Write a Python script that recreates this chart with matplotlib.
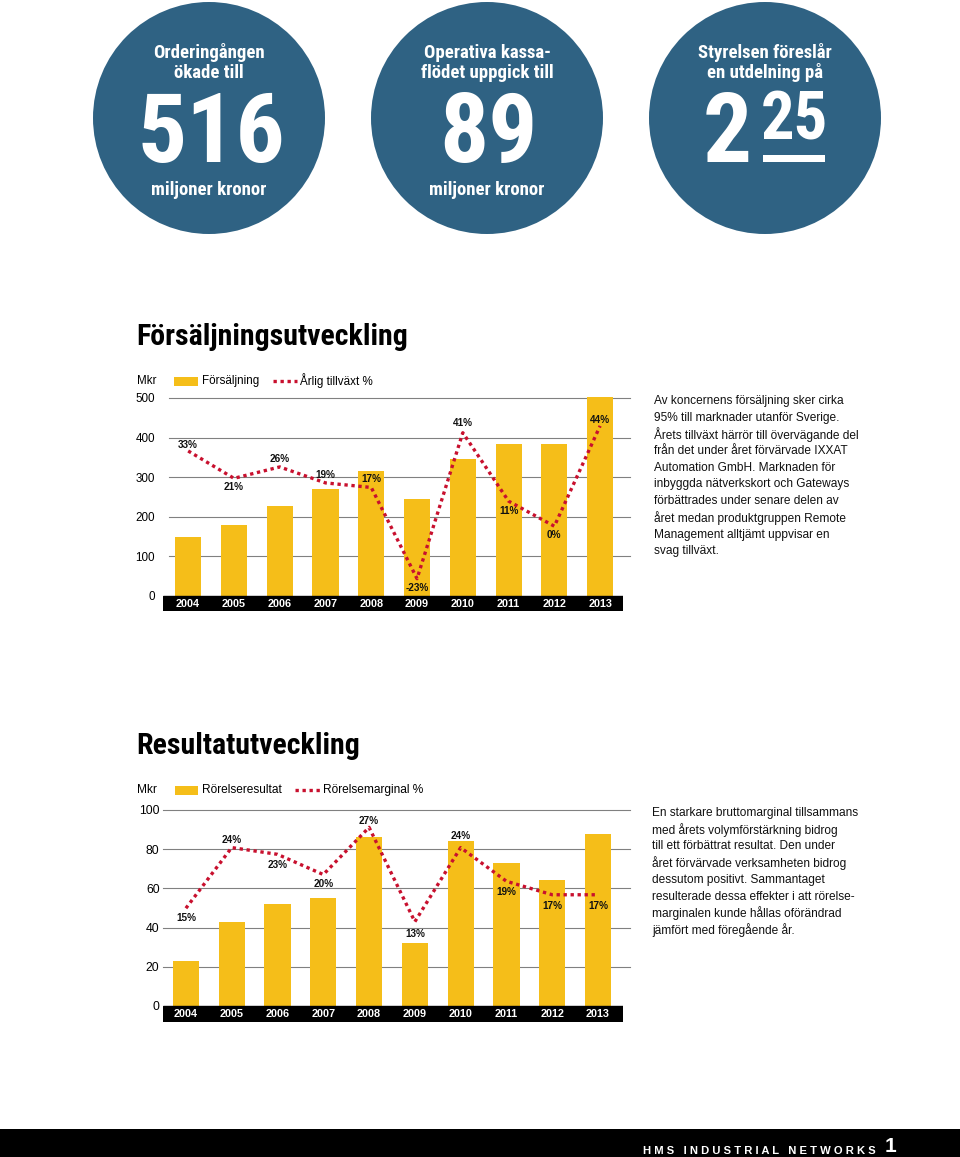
import matplotlib
matplotlib.use("Agg")
import matplotlib.pyplot as plt
from matplotlib import font_manager
from matplotlib.patches import Circle, Rectangle

plt.rcParams['font.family'] = ['Liberation Sans', 'DejaVu Sans']


def pick_narrow():
    # first condensed bold face that is really installed, else plain Liberation Sans
    for fam in ['Liberation Sans Narrow', 'Roboto Condensed', 'Open Sans Condensed',
                'Noto Sans Condensed', 'DejaVu Sans Condensed']:
        try:
            font_manager.findfont(font_manager.FontProperties(family=fam, weight='bold'),
                                  fallback_to_default=False)
            return [fam, 'DejaVu Sans']
        except ValueError:
            pass
    return ['Liberation Sans', 'DejaVu Sans']


NARROW = pick_narrow()

YELLOW = '#f5be19'
RED = '#c8102e'
BLUE = '#2f6283'
GRID = '#808080'

# --- data ---
years = ['2004', '2005', '2006', '2007', '2008', '2009', '2010', '2011', '2012', '2013']

sales = [148, 180, 227, 269, 316, 244, 345, 385, 383, 503]
sales_growth = [33, 21, 26, 19, 17, -23, 41, 11, 0, 44]

op_result = [23, 43, 52, 55, 86, 32, 84, 73, 64.5, 88]
op_margin = [15, 24, 23, 20, 27, 13, 24, 19, 17, 17]

text_sales = [
    "Av koncernens försäljning sker cirka",
    "95% till marknader utanför Sverige.",
    "Årets tillväxt härrör till övervägande del",
    "från det under året förvärvade IXXAT",
    "Automation GmbH. Marknaden för",
    "inbyggda nätverkskort och Gateways",
    "förbättrades under senare delen av",
    "året medan produktgruppen Remote",
    "Management alltjämt uppvisar en",
    "svag tillväxt.",
]
text_result = [
    "En starkare bruttomarginal tillsammans",
    "med årets volymförstärkning bidrog",
    "till ett förbättrat resultat. Den under",
    "året förvärvade verksamheten bidrog",
    "dessutom positivt. Sammantaget",
    "resulterade dessa effekter i att rörelse-",
    "marginalen kunde hållas oförändrad",
    "jämfört med föregående år.",
]

# label offsets in pixels (image y down), not data
off_sales = [-6, 9, -8, -8, -8, 9, -10, 10, 9, -6]
off_result = [10, -8, 11, 9, -6, 12, -12, 11, 11, 11]

W, H = 960, 1157
fig = plt.figure(figsize=(W / 100, H / 100), dpi=100)
renderer = fig.canvas.get_renderer()

bg = fig.add_axes([0, 0, 1, 1])
bg.set_xlim(0, W)
bg.set_ylim(H, 0)
bg.axis('off')


def rect(left, top, right, bottom):
    return [left / W, 1 - bottom / H, (right - left) / W, (bottom - top) / H]


def fit_size(txt, width):
    # font size at which this text is about `width` pixels wide
    w = txt.get_window_extent(renderer).width
    return txt.get_fontsize() * width / w


# top circles
for cx in [209, 487, 765]:
    bg.add_patch(Circle((cx, 118), 116, color=BLUE, lw=0))

white = dict(color='white', family=NARROW, weight='bold', ha='center', va='baseline')
small = [
    bg.text(209, 58, "Orderingången", fontsize=14, **white),
    bg.text(209, 78, "ökade till", fontsize=14, **white),
    bg.text(487, 58, "Operativa kassa-", fontsize=14, **white),
    bg.text(487, 78, "flödet uppgick till", fontsize=14, **white),
    bg.text(765, 58, "Styrelsen föreslår", fontsize=14, **white),
    bg.text(765, 78, "en utdelning på", fontsize=14, **white),
    bg.text(209, 195, "miljoner kronor", fontsize=14, **white),
    bg.text(487, 195, "miljoner kronor", fontsize=14, **white),
]
s_small = min(14, fit_size(small[2], 128))
for t in small:
    t.set_fontsize(s_small)

big = [
    bg.text(211, 162, "516", fontsize=70, **white),
    bg.text(488, 162, "89", fontsize=70, **white),
    bg.text(727, 162, "2", fontsize=70, **white),
]
s_big = min(70, fit_size(big[0], 152))
for t in big:
    t.set_fontsize(s_big)
sup = bg.text(794, 140, "25", fontsize=48, **white)
sup.set_fontsize(min(48, fit_size(sup, 68)))
bg.add_patch(Rectangle((763, 155), 62, 7, color='white', lw=0))

# headings
h1 = bg.text(136, 345, "Försäljningsutveckling", fontsize=21.5, family=NARROW,
             weight='bold', va='baseline', ha='left', color='black')
h2 = bg.text(136, 754, "Resultatutveckling", fontsize=21.5, family=NARROW,
             weight='bold', va='baseline', ha='left', color='black')
s_head = min(21.5, fit_size(h1, 280))
h1.set_fontsize(s_head)
h2.set_fontsize(s_head)

# side texts
for i, line in enumerate(text_sales):
    bg.text(654, 401 + i * 16.7, line, fontsize=8.6, va='center', ha='left', color='#111111')
for i, line in enumerate(text_result):
    bg.text(652, 813 + i * 16.7, line, fontsize=8.6, va='center', ha='left', color='#111111')

# legends
bg.text(137, 381, "Mkr", fontsize=8.4, va='center', ha='left')
bg.add_patch(Rectangle((174, 377), 24, 9, color=YELLOW, lw=0))
bg.text(202, 381, "Försäljning", fontsize=8.4, va='center', ha='left')
bg.plot([273, 297], [381, 381], color=RED, lw=2.4, ls=(0, (1, 1.1)))
bg.text(300, 381, "Årlig tillväxt %", fontsize=8.4, va='center', ha='left')

bg.text(137, 790, "Mkr", fontsize=8.6, va='center', ha='left')
bg.add_patch(Rectangle((175, 786), 23, 9, color=YELLOW, lw=0))
bg.text(202, 790, "Rörelseresultat", fontsize=8.6, va='center', ha='left')
bg.plot([295, 320], [790, 790], color=RED, lw=2.4, ls=(0, (1, 1.1)))
bg.text(323, 790, "Rörelsemarginal %", fontsize=8.6, va='center', ha='left')

# footer
bg.add_patch(Rectangle((0, 1129), W, 28, color='black', lw=0))
foot = bg.text(643, 1151, "H M S   I N D U S T R I A L   N E T W O R K S", fontsize=7.5,
               weight='bold', color='white', va='center', ha='left')
foot.set_fontsize(fit_size(foot, 232))
bg.text(885, 1156, "1", fontsize=15, weight='bold', color='white', va='bottom', ha='left')


def combo(pos, xlim, ylim, ylim2, ticks, bar_vals, pct_vals, offsets, tick_pad, tick_size,
          grid_x0, band_mid):
    ax = fig.add_axes(pos)
    x = list(range(len(years)))
    ax.set_xlim(*xlim)
    ax.set_ylim(*ylim)
    for t in ticks[1:]:
        ax.axhline(t, xmin=grid_x0, xmax=1.015, color=GRID, lw=0.8, zorder=1, clip_on=False)
    ax.bar(x, bar_vals, width=0.57, color=YELLOW, zorder=2)
    ax.axhspan(ylim[0], 0, color='black', zorder=3)
    for i, yr in enumerate(years):
        ax.text(i, band_mid, yr, color='white', fontsize=7.8, weight='bold',
                ha='center', va='center', zorder=4)
    ax.set_xticks([])
    ax.set_yticks(ticks)
    ax.set_yticklabels([str(t) for t in ticks])
    ax.tick_params(axis='y', length=0, pad=tick_pad, labelsize=tick_size)
    for s in ax.spines.values():
        s.set_visible(False)
    ax.patch.set_alpha(0)

    ax2 = ax.twinx()
    ax2.set_ylim(*ylim2)
    ax2.plot(x, pct_vals, color=RED, lw=2.4, ls=(0, (1, 1.1)), zorder=5)
    for i, p in enumerate(pct_vals):
        ax2.annotate(f"{p}%", (i, p), xytext=(0, -offsets[i]), textcoords='offset pixels',
                     ha='center', va='center', fontsize=7.2, weight='bold', color='#111111')
    ax2.set_yticks([])
    for s in ax2.spines.values():
        s.set_visible(False)
    return ax


# Försäljning: 0 at y=596, 0.396 px per Mkr
combo(rect(163, 596 - 520 * 0.396, 623, 596 + 38 * 0.396),
      (-0.55, 9.5), (-38, 520), (-37.2, 59.7),
      [0, 100, 200, 300, 400, 500], sales, sales_growth, off_sales,
      5.8, 8.4, 0.013, -19)

# Resultat: 0 at y=1006, 1.96 px per Mkr
combo(rect(163, 1006 - 104 * 1.96, 623, 1006 + 8.2 * 1.96),
      (-0.5, 9.545), (-8.2, 104), (-1.89, 30.74),
      [0, 20, 40, 60, 80, 100], op_result, op_margin, off_result,
      2.5, 8.8, 0.0, -4.1)

fig.savefig("out.png", dpi=100)
